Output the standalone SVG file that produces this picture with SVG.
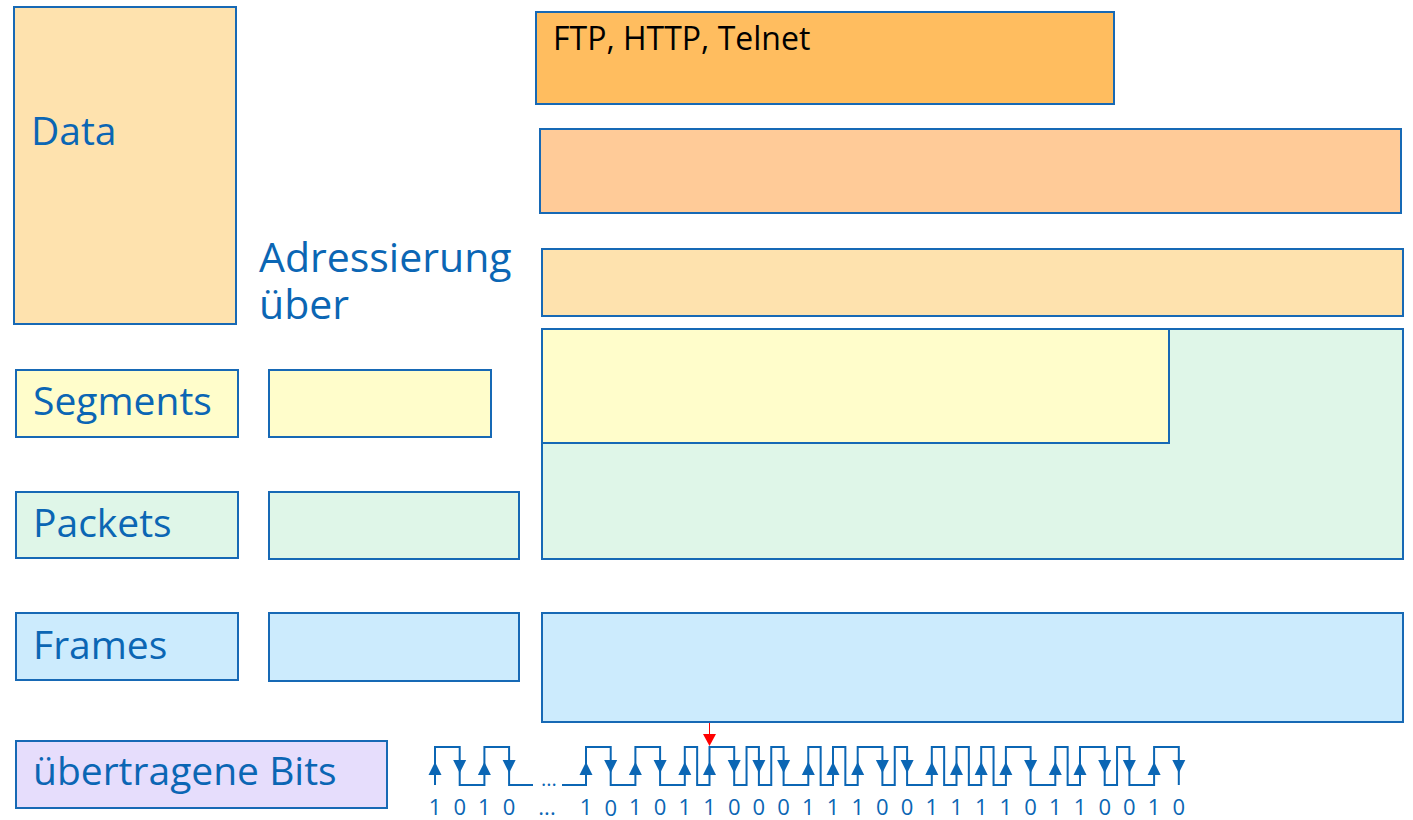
<svg xmlns="http://www.w3.org/2000/svg" width="1413" height="820" viewBox="0 0 1413 820">
<style>
.box{stroke:#1769B5;stroke-width:2}
.lbl{font-family:"Open Sans","DejaVu Sans",sans-serif;font-size:39px;fill:#0B66B4}
.big{font-size:41px}
.dig{font-family:"Open Sans","DejaVu Sans",sans-serif;font-size:22px;fill:#0B66B4;text-anchor:middle}
.wave{fill:none;stroke:#0B66B4;stroke-width:2}
.ah{fill:#0B66B4}
</style>
<defs>
<path id="up" d="M0,-6.5 L6.5,6.5 L-6.5,6.5 Z"/>
<path id="dn" d="M-6.5,-6.5 L6.5,-6.5 L0,6.5 Z"/>
</defs>
<rect width="1413" height="820" fill="#FFFFFF"/>

<g id="data">
<rect class="box" x="14" y="7" width="222" height="317" fill="#FEE2AE"/>
<text class="lbl" x="31" y="145">Data</text>
</g>
<g id="adressierung">
<text class="lbl big"><tspan x="259" y="272">Adressierung</tspan><tspan x="259" y="319">über</tspan></text>
</g>
<g id="app">
<rect class="box" x="536" y="12" width="578" height="92" fill="#FFBD5F"/>
<text x="553" y="50" font-family="'Open Sans','DejaVu Sans',sans-serif" font-size="32" fill="#000000">FTP, HTTP, Telnet</text>
</g>
<g id="presentation">
<rect class="box" x="540" y="129" width="861" height="84" fill="#FFCB98"/>
</g>
<g id="session">
<rect class="box" x="542" y="249" width="861" height="67" fill="#FEE2AE"/>
</g>
<g id="network-big">
<rect class="box" x="542" y="329" width="861" height="230" fill="#DFF6E8"/>
</g>
<g id="transport-big">
<rect class="box" x="542" y="329" width="627" height="114" fill="#FFFDCB"/>
</g>
<g id="link-big">
<rect class="box" x="542" y="613" width="861" height="109" fill="#CCEBFD"/>
</g>

<g id="segments">
<rect class="box" x="16" y="370" width="222" height="67" fill="#FFFDCB"/>
<text class="lbl" x="33" y="415">Segments</text>
</g>
<g id="segments-addr">
<rect class="box" x="269" y="370" width="222" height="67" fill="#FFFDCB"/>
</g>
<g id="packets">
<rect class="box" x="16" y="492" width="222" height="66" fill="#DFF6E8"/>
<text class="lbl" x="33" y="537">Packets</text>
</g>
<g id="packets-addr">
<rect class="box" x="269" y="492" width="250" height="67" fill="#DFF6E8"/>
</g>
<g id="frames">
<rect class="box" x="16" y="613" width="222" height="67" fill="#CCEBFD"/>
<text class="lbl" x="33" y="659">Frames</text>
</g>
<g id="frames-addr">
<rect class="box" x="269" y="613" width="250" height="68" fill="#CCEBFD"/>
</g>
<g id="bits">
<rect class="box" x="16" y="741" width="371" height="67" fill="#E6DDFC"/>
<text class="lbl" x="33" y="785">übertragene Bits</text>
</g>

<g id="signal">
<path class="wave" d="M435,785 V747 H459.7 V785 H484.4 V747 H509.1 V785 H533"/>
<path class="wave" d="M562,785 H586 V747 H610.7 V785 H635.4 V747 H660.1 V785 H684.8 V747 H697.15 V785 H709.5 V747 H734.2 V785 H746.55 V747 H758.9 V785 H771.25 V747 H783.6 V785 H808.3 V747 H820.65 V785 H833 V747 H845.35 V785 H857.7 V747 H882.4 V785 H894.75 V747 H907.1 V785 H931.8 V747 H944.15 V785 H956.5 V747 H968.85 V785 H981.2 V747 H993.55 V785 H1005.9 V747 H1030.6 V785 H1055.3 V747 H1067.65 V785 H1080 V747 H1104.7 V785 H1117.05 V747 H1129.4 V785 H1154.1 V747 H1178.8 V785"/>
<text x="549" y="786" class="dig" style="font-size:20px">...</text>
<g class="ah">
<use href="#up" x="435" y="768.5"/><use href="#dn" x="459.7" y="766.5"/><use href="#up" x="484.4" y="768.5"/><use href="#dn" x="509.1" y="766.5"/>
<use href="#up" x="586" y="768.5"/><use href="#dn" x="610.7" y="766.5"/><use href="#up" x="635.4" y="768.5"/><use href="#dn" x="660.1" y="766.5"/>
<use href="#up" x="684.8" y="768.5"/><use href="#up" x="709.5" y="768.5"/><use href="#dn" x="734.2" y="766.5"/><use href="#dn" x="758.9" y="766.5"/>
<use href="#dn" x="783.6" y="766.5"/><use href="#up" x="808.3" y="768.5"/><use href="#up" x="833" y="768.5"/><use href="#up" x="857.7" y="768.5"/>
<use href="#dn" x="882.4" y="766.5"/><use href="#dn" x="907.1" y="766.5"/><use href="#up" x="931.8" y="768.5"/><use href="#up" x="956.5" y="768.5"/>
<use href="#up" x="981.2" y="768.5"/><use href="#up" x="1005.9" y="768.5"/><use href="#dn" x="1030.6" y="766.5"/><use href="#up" x="1055.3" y="768.5"/>
<use href="#up" x="1080" y="768.5"/><use href="#dn" x="1104.7" y="766.5"/><use href="#dn" x="1129.4" y="766.5"/><use href="#up" x="1154.1" y="768.5"/>
<use href="#dn" x="1178.8" y="766.5"/>
</g>
<g>
<text class="dig" x="435" y="815">1</text><text class="dig" x="459.7" y="815">0</text><text class="dig" x="484.4" y="815">1</text><text class="dig" x="509.1" y="815">0</text>
<text class="dig" x="547" y="815">...</text>
<text class="dig" x="586" y="815">1</text><text class="dig" x="610.7" y="816">0</text><text class="dig" x="635.4" y="815">1</text><text class="dig" x="660.1" y="815">0</text>
<text class="dig" x="684.8" y="815">1</text><text class="dig" x="709.5" y="815">1</text><text class="dig" x="734.2" y="815">0</text><text class="dig" x="758.9" y="815">0</text>
<text class="dig" x="783.6" y="815">0</text><text class="dig" x="808.3" y="815">1</text><text class="dig" x="833" y="815">1</text><text class="dig" x="857.7" y="815">1</text>
<text class="dig" x="882.4" y="815">0</text><text class="dig" x="907.1" y="815">0</text><text class="dig" x="931.8" y="815">1</text><text class="dig" x="956.5" y="815">1</text>
<text class="dig" x="981.2" y="815">1</text><text class="dig" x="1005.9" y="815">1</text><text class="dig" x="1030.6" y="815">0</text><text class="dig" x="1055.3" y="815">1</text>
<text class="dig" x="1080" y="815">1</text><text class="dig" x="1104.7" y="815">0</text><text class="dig" x="1129.4" y="815">0</text><text class="dig" x="1154.1" y="815">1</text>
<text class="dig" x="1178.8" y="815">0</text>
</g>
</g>

<g id="connectors">
<line x1="709.5" y1="723" x2="709.5" y2="735" stroke="#FF0000" stroke-width="1"/>
<path d="M703,734 L716,734 L709.5,746 Z" fill="#FF0000"/>
</g>
</svg>
